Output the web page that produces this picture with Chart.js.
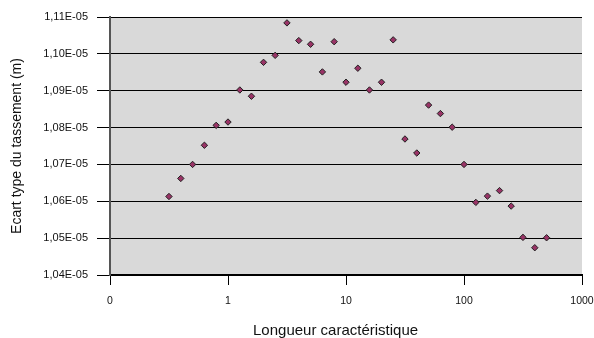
<!DOCTYPE html>
<html>
<head>
<meta charset="utf-8">
<script src="https://cdn.jsdelivr.net/npm/chart.js@4"></script>
<style>
  html, body { margin: 0; padding: 0; background: #fff; }
  #wrap { width: 594px; height: 338px; }
</style>
</head>
<body>
<div id="wrap"><canvas id="canvas" width="594" height="338"></canvas></div>
<script>
// longueur caractéristique (log scale)
const longueurs = [0.316, 0.398, 0.501, 0.631, 0.794, 1, 1.26, 1.58, 2, 2.51,
  3.16, 3.98, 5.01, 6.31, 7.94, 10, 12.6, 15.8, 20, 25.1,
  31.6, 39.8, 50.1, 63.1, 79.4, 100, 126, 158, 200, 251,
  316, 398, 501];
// écart type du tassement, in units of 1E-05 m
const ecarts = [1.0613, 1.0662, 1.0700, 1.0752, 1.0806, 1.0815, 1.0902, 1.0885, 1.0977, 1.0996,
  1.1084, 1.1036, 1.1026, 1.0951, 1.1033, 1.0923, 1.0961, 1.0902, 1.0923, 1.1038,
  1.0769, 1.0731, 1.0861, 1.0838, 1.0801, 1.0700, 1.0597, 1.0614, 1.0629, 1.0587,
  1.0502, 1.0474, 1.0501];

const xTickValues = [0.1, 1, 10, 100, 1000];
const xTickLabels = ['0', '1', '10', '100', '1000'];
const yTickValues = [1.04e-5, 1.05e-5, 1.06e-5, 1.07e-5, 1.08e-5, 1.09e-5, 1.10e-5, 1.11e-5];
const yTickLabels = ['1,04E-05', '1,05E-05', '1,06E-05', '1,07E-05', '1,08E-05', '1,09E-05', '1,10E-05', '1,11E-05'];

const points = longueurs.map((x, i) => ({ x: x, y: ecarts[i] * 1e-5 }));

const plotBackground = {
  id: 'plotBackground',
  beforeDraw(chart) {
    const { ctx, chartArea: a } = chart;
    ctx.save();
    ctx.fillStyle = '#d9d9d9';
    ctx.fillRect(a.left, a.top, a.right - a.left, a.bottom - a.top);
    ctx.restore();
  }
};

const ctx = document.getElementById('canvas').getContext('2d');
const chart = new Chart(ctx, {
  type: 'scatter',
  data: {
    datasets: [{
      label: 'Ecart type',
      data: points,
      pointStyle: 'rectRot',
      pointRadius: 3.2,
      pointBackgroundColor: '#993366',
      pointBorderColor: '#222',
      pointBorderWidth: 1
    }]
  },
  options: {
    responsive: false,
    animation: false,
    layout: { padding: { top: 17, right: 0, left: 0, bottom: 0 } },
    plugins: {
      legend: { display: false },
      tooltip: { enabled: false }
    },
    scales: {
      x: {
        type: 'logarithmic',
        min: 0.1,
        max: 1000,
        afterBuildTicks: (scale) => {
          scale.ticks = xTickValues.map(v => ({ value: v, major: true }));
        },
        afterFit: (scale) => {
          scale.height = 63;
          scale.paddingLeft = 0;
          scale.paddingRight = 12;
        },
        ticks: {
          autoSkip: false,
          maxRotation: 0,
          padding: 10,
          color: '#111',
          font: { family: 'Liberation Sans, Arial', size: 10.5 },
          callback: (v, i) => xTickLabels[i]
        },
        grid: { drawOnChartArea: false, drawTicks: true, tickLength: 10, color: '#000' },
        border: { color: '#000', width: 2 },
        title: {
          display: true,
          text: 'Longueur caractéristique\u00a0\u00a0\u00a0\u00a0\u00a0',
          color: '#111',
          font: { family: 'Liberation Sans, Arial', size: 15, lineHeight: 1 },
          padding: { top: 0, bottom: 0 }
        }
      },
      y: {
        min: 1.04e-5,
        max: 1.11e-5,
        afterBuildTicks: (scale) => {
          scale.ticks = yTickValues.map(v => ({ value: v }));
        },
        afterFit: (scale) => { scale.width = 110; },
        ticks: {
          padding: 9,
          color: '#111',
          font: { family: 'Liberation Sans, Arial', size: 11 },
          callback: (v, i) => yTickLabels[i]
        },
        grid: { color: '#000', lineWidth: 1, tickLength: 13 },
        border: { color: '#555', width: 2 },
        title: {
          display: true,
          text: 'Ecart type du tassement (m)',
          color: '#111',
          font: { family: 'Liberation Sans, Arial', size: 14, lineHeight: 1 },
          padding: { top: 10, bottom: 0 }
        }
      }
    }
  },
  plugins: [plotBackground]
});
</script>
</body>
</html>
